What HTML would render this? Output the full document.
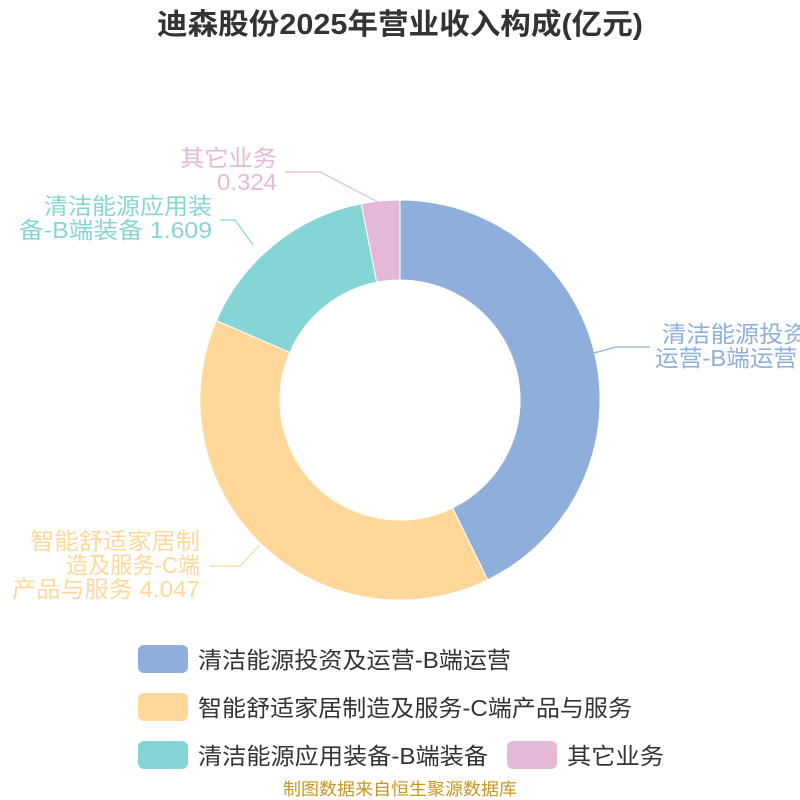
<!DOCTYPE html>
<html><head><meta charset="utf-8"><style>
body{margin:0;background:#fff}
svg{display:block;font-family:"Liberation Sans","Noto Sans CJK SC",sans-serif}
</style></head><body>
<svg width="800" height="800" viewBox="0 0 800 800">
<text x="157" y="34" font-size="29" font-weight="bold" fill="#333" textLength="486" lengthAdjust="spacingAndGlyphs">迪森股份2025年营业收入构成(亿元)</text>
<g stroke="#fff" stroke-width="1">
<path d="M400,200 A200,200 0 0 1 487.7,579.8 L452.6,507.9 A120,120 0 0 0 400,280 Z" fill="#8eaedb"/>
<path d="M487.7,579.8 A200,200 0 0 1 216.4,320.6 L289.8,352.4 A120,120 0 0 0 452.6,507.9 Z" fill="#ffd799"/>
<path d="M216.4,320.6 A200,200 0 0 1 361.2,203.8 L376.7,282.3 A120,120 0 0 0 289.8,352.4 Z" fill="#86d5d6"/>
<path d="M361.2,203.8 A200,200 0 0 1 400,200 L400,280 A120,120 0 0 0 376.7,282.3 Z" fill="#e6b8d8"/>
</g>
<g fill="none" stroke-width="1.2">
<polyline points="594,353 616,347 650,347" stroke="#8eaedb"/>
<polyline points="260,545 240,566 210,566" stroke="#ffd799"/>
<polyline points="253,245 235,220 220,220" stroke="#86d5d6"/>
<polyline points="380,203 320,172 285,172" stroke="#e6b8d8"/>
</g>
<g font-size="23">
<text x="662" y="342" fill="#8eaedb" textLength="170" lengthAdjust="spacingAndGlyphs">清洁能源投资及</text>
<text x="655" y="366" fill="#8eaedb" textLength="195" lengthAdjust="spacingAndGlyphs">运营-B端运营 4.47</text>
<text x="30" y="549" fill="#ffd799" textLength="170" lengthAdjust="spacingAndGlyphs">智能舒适家居制</text>
<text x="66" y="573" fill="#ffd799" textLength="134" lengthAdjust="spacingAndGlyphs">造及服务-C端</text>
<text x="12" y="597" fill="#ffd799" textLength="188" lengthAdjust="spacingAndGlyphs">产品与服务 4.047</text>
<text x="44" y="214" fill="#86d5d6" textLength="168" lengthAdjust="spacingAndGlyphs">清洁能源应用装</text>
<text x="19" y="238" fill="#86d5d6" textLength="193" lengthAdjust="spacingAndGlyphs">备-B端装备 1.609</text>
<text x="180" y="166" fill="#e6b8d8" textLength="97" lengthAdjust="spacingAndGlyphs">其它业务</text>
<text x="217" y="190" fill="#e6b8d8" textLength="60" lengthAdjust="spacingAndGlyphs">0.324</text>
</g>
<g font-size="23" fill="#333">
<rect x="138" y="645" width="50" height="28" rx="6" fill="#8eaedb"/>
<text x="198" y="668" textLength="313" lengthAdjust="spacingAndGlyphs">清洁能源投资及运营-B端运营</text>
<rect x="138" y="693" width="50" height="28" rx="6" fill="#ffd799"/>
<text x="198" y="716" textLength="434" lengthAdjust="spacingAndGlyphs">智能舒适家居制造及服务-C端产品与服务</text>
<rect x="138" y="741" width="50" height="28" rx="6" fill="#86d5d6"/>
<text x="198" y="764" textLength="290" lengthAdjust="spacingAndGlyphs">清洁能源应用装备-B端装备</text>
<rect x="507" y="741" width="50" height="28" rx="6" fill="#e6b8d8"/>
<text x="567" y="764" textLength="97" lengthAdjust="spacingAndGlyphs">其它业务</text>
</g>
<text x="283" y="795" font-size="17" fill="#c8961e" textLength="234" lengthAdjust="spacingAndGlyphs">制图数据来自恒生聚源数据库</text>
</svg>
</body></html>
